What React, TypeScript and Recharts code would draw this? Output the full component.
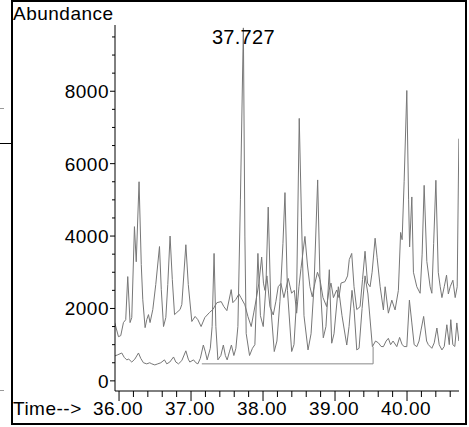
import React from 'react';
import { LineChart, Line, XAxis, YAxis, ReferenceDot } from 'recharts';

const FONT = '"Liberation Sans", Arial, Helvetica, sans-serif';

// upper trace: retention time (min) and abundance
const upperTime = [
  35.940, 35.992, 36.024, 36.061, 36.093, 36.121, 36.153, 36.177, 36.214, 36.239,
  36.278, 36.309, 36.330, 36.362, 36.385, 36.409, 36.431, 36.469, 36.510, 36.562,
  36.587, 36.618, 36.650, 36.677, 36.709, 36.740, 36.771, 36.803, 36.848, 36.872,
  36.928, 36.962, 37.011, 37.057, 37.095, 37.140, 37.192, 37.257, 37.303, 37.359,
  37.419, 37.456, 37.498, 37.558, 37.581, 37.623, 37.665, 37.693, 37.748, 37.790,
  37.836, 37.873, 37.905, 37.943, 37.981, 38.006, 38.026, 38.054, 38.096, 38.142,
  38.179, 38.211, 38.249, 38.290, 38.350, 38.397, 38.434, 38.467, 38.499, 38.527,
  38.582, 38.617, 38.652, 38.684, 38.721, 38.756, 38.791, 38.833, 38.884, 38.916,
  38.944, 38.978, 39.023, 39.055, 39.083, 39.138, 39.174, 39.198, 39.232, 39.264,
  39.302, 39.348, 39.382, 39.417, 39.452, 39.487, 39.515, 39.557, 39.585, 39.627,
  39.672, 39.696, 39.741, 39.789, 39.834, 39.880, 39.911, 39.932, 39.960, 39.997,
  40.022, 40.036, 40.067, 40.089, 40.136, 40.182, 40.210, 40.238, 40.275, 40.321,
  40.345, 40.370, 40.401, 40.434, 40.461, 40.485, 40.517, 40.549, 40.574, 40.600,
  40.637, 40.669, 40.697, 40.720,
];
const upperAbundance = [
  1610, 1220, 1250, 1610, 1690, 2880, 1610, 1750, 4260, 3290,
  5500, 3210, 2240, 1470, 1690, 1830, 1610, 1970, 2660, 3710,
  2520, 1500, 1750, 2660, 4000, 2800, 1830, 1890, 1970, 2110,
  3760, 2660, 1640, 1780, 1690, 1500, 1750, 1890, 1970, 2160,
  2190, 2050, 1940, 2520, 2160, 2250, 2400, 2300, 2100, 1780,
  1500, 1900, 2250, 2700, 3420, 2700, 2500, 2900, 2050, 1820,
  2200, 2600, 2690, 2300, 2830, 2420, 2500, 1870, 2600, 3100,
  3990, 3200, 2600, 2320, 2700, 3000, 2800, 2300, 2050, 2500,
  2700, 2300, 2510, 2300, 2700, 2740, 2900, 3350, 3520, 2600,
  1970, 2050, 2800, 3580, 2700, 2600, 3000, 3940, 3400, 2600,
  1960, 2600, 1870, 2230, 1960, 2500, 4100, 3900, 5500, 8020,
  5000, 3700, 5080, 3000, 2600, 2420, 3500, 5400, 3300, 2600,
  2420, 3800, 5540, 3000, 2600, 2300, 2600, 2920, 2400, 2600,
  2780, 2300, 2600, 6690,
];

// lower trace
const lowerTime = [
  35.944, 35.982, 36.038, 36.072, 36.107, 36.135, 36.177, 36.219, 36.270, 36.302,
  36.339, 36.385, 36.427, 36.455, 36.497, 36.538, 36.580, 36.631, 36.663, 36.705,
  36.757, 36.789, 36.826, 36.872, 36.928, 36.962, 36.983, 37.035, 37.067, 37.095,
  37.129, 37.171, 37.199, 37.224, 37.268, 37.293, 37.320, 37.345, 37.373, 37.414,
  37.449, 37.477, 37.502, 37.533, 37.561, 37.595, 37.623, 37.651, 37.686, 37.727,
  37.748, 37.766, 37.813, 37.853, 37.887, 37.929, 37.964, 38.003, 38.040, 38.072,
  38.110, 38.156, 38.193, 38.235, 38.277, 38.305, 38.339, 38.398, 38.430, 38.465,
  38.503, 38.534, 38.569, 38.625, 38.667, 38.708, 38.759, 38.791, 38.837, 38.874,
  38.921, 38.954, 38.986, 39.046, 39.097, 39.163, 39.195, 39.236, 39.264, 39.302,
  39.334, 39.376, 39.417, 39.457, 39.519, 39.563, 39.602, 39.640, 39.672, 39.710,
  39.741, 39.772, 39.806, 39.858, 39.897, 39.932, 39.960, 39.997, 40.033, 40.067,
  40.099, 40.136, 40.167, 40.194, 40.231, 40.272, 40.296, 40.345, 40.378, 40.415,
  40.447, 40.485, 40.517, 40.553, 40.587, 40.608, 40.636, 40.664, 40.692, 40.720,
];
const lowerAbundance = [
  690, 720, 770, 650, 580, 600, 520, 600, 770, 620,
  500, 470, 500, 470, 440, 470, 500, 580, 470, 520,
  660, 520, 470, 560, 830, 600, 520, 580, 500, 470,
  620, 990, 800, 580, 900, 1500, 3520, 1500, 580, 700,
  990, 700, 580, 800, 990, 700, 900, 1500, 5000, 9750,
  4000, 1310, 700, 900, 1000, 3520, 1800, 1500, 2600, 4800,
  2000, 810, 1100, 2200, 3800, 5200, 2500, 810, 1000, 2200,
  7250, 4500, 1800, 855, 1300, 2600, 5550, 2800, 1190, 1500,
  3070, 1040, 1300, 2600, 1800, 990, 1500, 2500, 2000, 855,
  900, 2000, 2900, 2400, 945, 1100, 1050, 950, 945, 1100,
  1175, 1000, 1100, 945, 1200, 1000, 950, 945, 2230, 1600,
  1000, 945, 1100, 1400, 1780, 1100, 1000, 900, 1050, 1460,
  1000, 855, 950, 1550, 1000, 1690, 1000, 950, 1600, 1100,
];

// integration baseline under the lower trace
const baselineTime = [37.15, 39.529, 39.529];
const baselineAbundance = [470, 470, 945];

const timeTicks = [
  36.0, 36.2, 36.4, 36.6, 36.8, 37.0, 37.2, 37.4, 37.6, 37.8, 38.0, 38.2,
  38.4, 38.6, 38.8, 39.0, 39.2, 39.4, 39.6, 39.8, 40.0, 40.2, 40.4, 40.6,
];
const abundanceTicks = [
  0, 500, 1000, 1500, 2000, 2500, 3000, 3500, 4000, 4500,
  5000, 5500, 6000, 6500, 7000, 7500, 8000, 8500, 9000, 9500,
];

const toPoints = (ts: number[], vs: number[]) => ts.map((t, i) => ({ t, v: vs[i] }));

const upper = toPoints(upperTime, upperAbundance);
const lower = toPoints(lowerTime, lowerAbundance);
const baseline = toPoints(baselineTime, baselineAbundance);
const apex = lower.reduce((a, b) => (b.v > a.v ? b : a));

const textStyle = { fontSize: 19, fontFamily: FONT, fill: '#000', letterSpacing: 0.5 };

const TimeTick = ({ x, y, payload }: any) => {
  const major = Number.isInteger(payload.value);
  return (
    <g>
      <line x1={x} y1={y} x2={x} y2={y + (major ? 10 : 6)} stroke="#000" />
      {major && (
        <text x={x - 1} y={y + 24} textAnchor="middle" {...textStyle}>
          {payload.value.toFixed(2)}
        </text>
      )}
    </g>
  );
};

const AbundanceTick = ({ x, y, payload }: any) => {
  const major = payload.value % 2000 === 0;
  return (
    <g>
      <line x1={x} y1={y} x2={x - (major ? 5 : 3)} y2={y} stroke="#000" />
      {major && (
        <text x={x - 6} y={y} dy={7} textAnchor="end" {...textStyle}>
          {payload.value}
        </text>
      )}
    </g>
  );
};

export default function App() {
  return (
    <div style={{ position: 'absolute', left: 0, top: 0, width: 469, height: 427, background: '#fff' }}>
      <LineChart width={469} height={427} margin={{ top: 25, right: 10, bottom: 0, left: 0 }}>
        <XAxis
          dataKey="t"
          type="number"
          domain={[35.944, 40.722]}
          ticks={timeTicks}
          interval={0}
          allowDataOverflow
          height={36}
          tickSize={0}
          tickMargin={0}
          tickLine={false}
          axisLine={{ stroke: '#000' }}
          tick={<TimeTick />}
        />
        <YAxis
          type="number"
          domain={[-280, 9830]}
          ticks={abundanceTicks}
          interval={0}
          allowDataOverflow
          width={115}
          tickSize={0}
          tickMargin={0}
          tickLine={false}
          axisLine={{ stroke: '#000' }}
          tick={<AbundanceTick />}
        />
        <Line data={upper} dataKey="v" type="linear" dot={false} stroke="#777" strokeWidth={1} isAnimationActive={false} />
        <Line data={lower} dataKey="v" type="linear" dot={false} stroke="#777" strokeWidth={1} isAnimationActive={false} />
        <Line data={baseline} dataKey="v" type="linear" dot={false} stroke="#888" strokeWidth={1} isAnimationActive={false} />
        <ReferenceDot
          x={apex.t}
          y={apex.v}
          r={0}
          fill="none"
          stroke="none"
          ifOverflow="visible"
          label={{ value: apex.t.toFixed(3), position: 'bottom', offset: 2, fontSize: 20, fill: '#000', fontFamily: FONT, letterSpacing: 0.3 }}
        />
      </LineChart>
      <svg
        width={469}
        height={427}
        style={{ position: 'absolute', left: 0, top: 0, pointerEvents: 'none' }}
      >
        <rect x={12} y={1} width={454} height={423} fill="none" stroke="#000" strokeWidth={2} />
        <line x1={0} y1={143.5} x2={11} y2={143.5} stroke="#000" />
        <line x1={0} y1={108.5} x2={4} y2={108.5} stroke="#999" />
        <line x1={0} y1={390.5} x2={4} y2={390.5} stroke="#999" />
        <text x={13} y={20} {...textStyle}>Abundance</text>
        <text x={13} y={415} {...textStyle}>Time--&gt;</text>
      </svg>
    </div>
  );
}
